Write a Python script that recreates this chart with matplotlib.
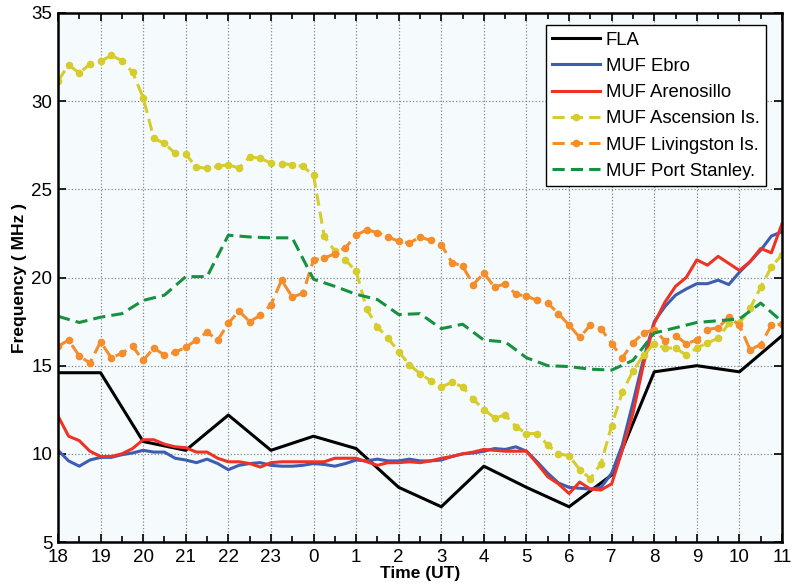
import numpy as np
import matplotlib
matplotlib.use("Agg")
import matplotlib.pyplot as plt
from matplotlib.ticker import MultipleLocator

plt.rcParams['font.family'] = ['Liberation Sans', 'DejaVu Sans']

# hour labels, 18 UT to 11 UT next day
hour_labels = ['18', '19', '20', '21', '22', '23', '0', '1', '2', '3',
               '4', '5', '6', '7', '8', '9', '10', '11']

# FLA, hourly
fla = [14.6, 14.6, 10.7, 10.2, 12.2, 10.2, 11.0, 10.3, 8.1, 7.0,
       9.3, 8.1, 7.0, 8.8, 14.65, 15.0, 14.65, 16.7]

# 15-minute series
ebro = [10.2, 9.6, 9.3, 9.65, 9.8, 9.8, 9.95, 10.05, 10.2, 10.1,
        10.1, 9.75, 9.65, 9.5, 9.7, 9.45, 9.1, 9.35, 9.45, 9.5,
        9.35, 9.3, 9.3, 9.35, 9.45, 9.4, 9.3, 9.45, 9.65, 9.6,
        9.7, 9.6, 9.6, 9.7, 9.6, 9.6, 9.65, 9.85, 10.0, 10.05,
        10.15, 10.3, 10.25, 10.4, 10.15, 9.55, 8.9, 8.35, 8.1, 8.05,
        8.0, 8.1, 8.9, 10.5, 12.9, 15.4, 17.5, 18.35, 19.0, 19.35,
        19.65, 19.65, 19.85, 19.6, 20.3, 20.9, 21.55, 22.35, 22.6]

arenosillo = [12.15, 11.0, 10.75, 10.15, 9.85, 9.85, 10.0, 10.3, 10.8, 10.8,
              10.55, 10.4, 10.35, 10.1, 10.1, 9.75, 9.55, 9.55, 9.45, 9.25,
              9.5, 9.55, 9.55, 9.55, 9.55, 9.55, 9.75, 9.75, 9.75, 9.55,
              9.35, 9.5, 9.5, 9.55, 9.5, 9.6, 9.75, 9.85, 10.0, 10.1,
              10.25, 10.2, 10.15, 10.15, 10.15, 9.45, 8.7, 8.3, 7.75, 8.4,
              8.0, 7.95, 8.3, 10.2, 12.3, 15.1, 17.4, 18.6, 19.5, 20.0,
              21.0, 20.7, 21.2, 20.8, 20.4, 20.9, 21.65, 21.4, 23.05]

ascension = [31.15, 32.05, 31.6, 32.1, 32.25, 32.6, 32.3, 31.65, 30.2, 27.9,
             27.6, 27.05, 27.0, 26.25, 26.2, 26.3, 26.4, 26.2, 26.85, 26.75,
             26.5, 26.45, 26.4, 26.3, 25.8, 22.35, 21.5, 21.0, 20.35, 18.2,
             17.2, 16.55, 15.8, 15.05, 14.55, 14.15, 13.8, 14.05, 13.8, 13.1,
             12.5, 12.05, 12.2, 11.55, 11.15, 11.15, 10.5, 10.0, 9.9, 9.1,
             8.6, 9.45, 11.6, 13.5, 14.7, 15.6, 16.25, 16.0, 16.0, 15.6,
             16.0, 16.3, 16.55, 17.4, 17.4, 18.25, 19.45, 20.6, 21.3]

livingston = [16.1, 16.45, 15.55, 15.15, 16.35, 15.45, 15.7, 16.1, 15.3, 16.0,
              15.6, 15.75, 16.05, 16.45, 16.9, 16.45, 17.4, 18.1, 17.5, 17.85,
              18.45, 19.85, 18.9, 19.1, 21.0, 21.1, 21.35, 21.7, 22.4, 22.7,
              22.55, 22.3, 22.05, 21.95, 22.3, 22.1, 21.85, 20.85, 20.65, 19.6,
              20.25, 19.45, 19.65, 19.05, 18.95, 18.7, 18.55, 17.95, 17.3, 16.6,
              17.3, 17.1, 16.25, 15.45, 16.3, 16.85, 17.05, 16.4, 16.7, 16.25,
              16.45, 17.05, 17.15, 17.75, 17.3, 15.9, 16.2, 17.3, 17.35]

# 30-minute series
port_stanley = [17.8, 17.45, 17.75, 17.95, 18.7, 19.0, 20.05, 20.05, 22.4, 22.3,
                22.25, 22.25, 19.9, 19.5, 19.05, 18.75, 17.9, 17.95, 17.1, 17.35,
                16.45, 16.35, 15.45, 15.0, 14.95, 14.8, 14.75, 15.3, 16.85, 17.15,
                17.45, 17.55, 17.65, 18.55, 17.5]

t_hour = np.arange(len(fla))
t_15 = np.arange(len(ebro)) * 0.25
t_30 = np.arange(len(port_stanley)) * 0.5

fig = plt.figure(figsize=(7.92, 5.88), dpi=100)
ax = fig.add_axes([0.0732, 0.0782, 0.9142, 0.8997])
ax.set_facecolor('#f5fbfd')

ax.plot(t_hour, fla, color='black', lw=2.2, label='FLA')
ax.plot(t_15, ebro, color='#3f5db0', lw=2.2, label='MUF Ebro')
ax.plot(t_15, arenosillo, color='#ee3326', lw=2.2, label='MUF Arenosillo')
ax.plot(t_15, ascension, color='#d6cd2c', lw=2.2, ls=(0, (4, 2)),
        marker='o', ms=4.5, label='MUF Ascension Is.')
ax.plot(t_15, livingston, color='#f48d2a', lw=2.2, ls=(0, (4, 2)),
        marker='o', ms=4.5, label='MUF Livingston Is.')
ax.plot(t_30, port_stanley, color='#17913f', lw=2.2, ls=(0, (4, 2)),
        label='MUF Port Stanley.')

ax.set_xlim(0, 17)
ax.set_ylim(5, 35)
ax.set_xticks(t_hour)
ax.set_xticklabels(hour_labels)
ax.xaxis.set_minor_locator(MultipleLocator(0.5))
ax.yaxis.set_major_locator(MultipleLocator(5))
ax.tick_params(which='both', direction='in', top=True, right=True,
               labelsize=13.5, width=1.2)
ax.tick_params(which='major', length=6)
ax.tick_params(which='minor', length=4)
ax.tick_params(axis='x', pad=5)
ax.tick_params(axis='y', pad=4)
for s in ax.spines.values():
    s.set_linewidth(1.8)
ax.grid(True, which='major', ls=':', color='#888888', lw=0.9)

ax.set_xlabel('Time (UT)', fontsize=12.5, fontweight='bold', labelpad=0)
ax.set_ylabel('Frequency ( MHz )', fontsize=12.5, fontweight='bold', labelpad=3)

leg = ax.legend(loc='upper right', fontsize=13.3, fancybox=False,
                framealpha=1, edgecolor='black', handlelength=2.6,
                numpoints=1, borderpad=0.35, labelspacing=0.5,
                handletextpad=0.3, borderaxespad=0,
                bbox_to_anchor=(0.9779, 0.977))
leg.get_frame().set_linewidth(1.0)

fig.savefig('out.png', dpi=100)
